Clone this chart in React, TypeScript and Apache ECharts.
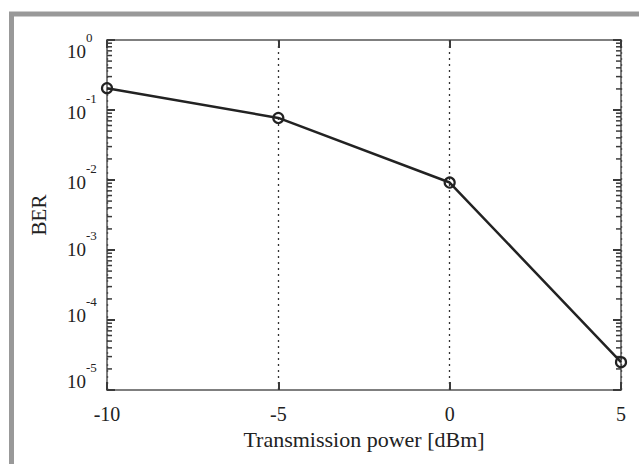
import React, { useEffect, useRef } from "react";
import * as echarts from "echarts";

const powers = [-10, -5, 0, 5];
const ber = [0.205, 0.077, 0.0092, 0.000025];
const xTicks = [-10, -5, 0, 5];
const decades = [1e-5, 1e-4, 1e-3, 1e-2, 1e-1];
const minorFactors = [2, 3, 4, 5, 6, 7, 8, 9];

const FONT = "Liberation Serif";
const INK = "#222";
const TICK = "#3a3a3a";
// vertical nudge (px, + = down) of each decade label, as placed in the original figure
const labelShift: Record<string, number> = { "0": 6, "-1": -3, "-2": -3, "-3": -6, "-4": -10, "-5": -14 };

function build() {
  const minorTicks: number[][] = [];
  decades.forEach((d) => minorFactors.forEach((f) => minorTicks.push([xTicks[0], d * f])));
  const tk = (len: number) => ({ show: true, inside: true, length: len, lineStyle: { color: TICK, width: 2 } });
  const al = () => ({ show: true, onZero: false, lineStyle: { color: "#555", width: 1.5 } });

  const rich: any = {
    b: { fontFamily: FONT, fontSize: 19, color: INK, verticalAlign: "bottom", lineHeight: 30 },
    s: { fontFamily: FONT, fontSize: 13, color: INK, verticalAlign: "top", lineHeight: 30 },
  };
  Object.keys(labelShift).forEach((k) => {
    const h = Math.abs(labelShift[k]) * 2;
    if (h > 0) rich["g" + h] = { fontSize: 2, lineHeight: h };
  });
  const yLabel = (x: number) => {
    const e = String(Math.round(Math.log10(x)));
    const s = labelShift[e] || 0;
    const core = "{b|10}{s|" + e + "}";
    if (s > 0) return "{g" + s * 2 + "| }\n" + core;
    if (s < 0) return core + "\n{g" + -s * 2 + "| }";
    return core;
  };

  return {
    animation: false,
    backgroundColor: "#fff",
    grid: { left: 107, right: 18, top: 40, bottom: 74 },
    xAxis: [
      {
        type: "value", min: -10, max: 5, interval: 5, position: "bottom",
        name: "Transmission power [dBm]", nameLocation: "middle", nameGap: 38,
        nameTextStyle: { fontFamily: FONT, fontSize: 22, color: INK },
        axisLine: al(), axisTick: tk(8),
        axisLabel: { fontFamily: FONT, fontSize: 20, color: INK, margin: 14 },
        splitLine: { show: true, lineStyle: { color: "#333", width: 1.3, type: [2, 4] } },
      },
      { type: "value", min: -10, max: 5, interval: 5, position: "top", axisLine: al(), axisTick: tk(8), axisLabel: { show: false }, splitLine: { show: false } },
    ],
    yAxis: [
      {
        type: "log", min: 1e-5, max: 1, position: "left",
        name: "BER", nameLocation: "middle", nameGap: 58, nameRotate: 90,
        nameTextStyle: { fontFamily: FONT, fontSize: 21, color: INK },
        axisLine: al(), axisTick: tk(8),
        axisLabel: { margin: 40, align: "left", formatter: yLabel, rich },
        splitLine: { show: false },
      },
      { type: "log", min: 1e-5, max: 1, position: "right", axisLine: al(), axisTick: tk(8), axisLabel: { show: false }, splitLine: { show: false } },
    ],
    series: [
      {
        type: "custom", encode: { x: 0, y: 1 }, data: minorTicks,
        renderItem: (_p: any, api: any) => {
          const l = api.coord([xTicks[0], api.value(1)]);
          return { type: "line", shape: { x1: l[0], y1: l[1], x2: l[0] + 5, y2: l[1] }, style: { stroke: TICK, lineWidth: 1.5 } };
        },
      },
      {
        type: "custom", encode: { x: 0, y: 1 }, data: minorTicks,
        renderItem: (_p: any, api: any) => {
          const r = api.coord([xTicks[xTicks.length - 1], api.value(1)]);
          return { type: "line", shape: { x1: r[0] - 5, y1: r[1], x2: r[0], y2: r[1] }, style: { stroke: TICK, lineWidth: 1.5 } };
        },
      },
      {
        type: "line", data: powers.map((p, i) => [p, ber[i]]), clip: false, symbol: "circle", symbolSize: 10,
        lineStyle: { color: INK, width: 2.5 },
        itemStyle: { color: "rgba(0,0,0,0)", borderColor: INK, borderWidth: 2.2 }, z: 5,
      },
    ],
    graphic: [
      { type: "rect", shape: { x: 11.5, y: 14, width: 700, height: 500 }, style: { fill: "none", stroke: "#999", lineWidth: 5 }, silent: true },
    ],
  };
}

export default function App() {
  const ref = useRef<HTMLDivElement>(null);
  useEffect(() => {
    const c = echarts.init(ref.current!, null, { renderer: "svg" });
    c.setOption(build() as any);
    return () => c.dispose();
  }, []);
  return <div ref={ref} style={{ position: "fixed", left: 0, top: 0, width: 639, height: 464 }} />;
}
